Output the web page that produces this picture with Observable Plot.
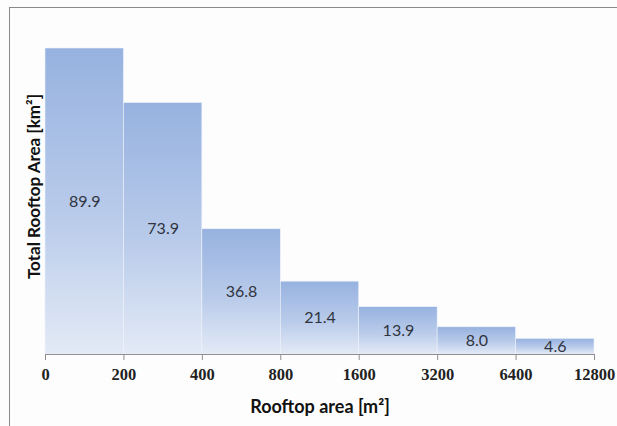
<!DOCTYPE html>
<html>
<head>
<meta charset="utf-8">
<script src="https://cdn.jsdelivr.net/npm/d3@7"></script>
<script src="https://cdn.jsdelivr.net/npm/@observablehq/plot@0.6"></script>
<style>
  html, body { margin: 0; padding: 0; background: #fdfdfd; overflow: hidden; }
  #wrap { position: relative; width: 617px; height: 426px; }
  #frame { position: absolute; left: 9px; top: 7px; width: 640px; height: 440px;
           border-top: 1.5px solid #8a8a8a; border-left: 1.5px solid #8a8a8a; pointer-events: none; }
  svg text { font-family: Lato, "Open Sans", "Liberation Sans", sans-serif; }
  svg g[aria-label="x-axis tick label"] text { font-family: "Liberation Serif", "DejaVu Serif", serif; }
</style>
</head>
<body>
<div id="wrap"><div id="frame"></div></div>
<script>
const edgeLabels = ["0", "200", "400", "800", "1600", "3200", "6400", "12800"];
const values = [89.9, 73.9, 36.8, 21.4, 13.9, 8.0, 4.6];
const valueLabels = ["89.9", "73.9", "36.8", "21.4", "13.9", "8.0", "4.6"];
const xTitle = "Rooftop area [m²]";
const yTitle = "Total Rooftop Area [km²]";

const bars = values.map((v, i) => ({i, v, label: valueLabels[i]}));

const chart = Plot.plot({
  width: 617,
  height: 426,
  marginLeft: 45,
  marginRight: 23,
  marginTop: 48,
  marginBottom: 72,
  style: {background: "transparent", overflow: "visible"},
  x: {domain: [0, values.length], axis: null},
  y: {domain: [0, 89.9], axis: null},
  marks: [
    () => {
      const ns = "http://www.w3.org/2000/svg";
      const defs = document.createElementNS(ns, "defs");
      const g = document.createElementNS(ns, "linearGradient");
      g.setAttribute("id", "barGrad");
      g.setAttribute("x1", "0"); g.setAttribute("y1", "0");
      g.setAttribute("x2", "0"); g.setAttribute("y2", "1");
      [["0%", "#97b2e0"], ["55%", "#b9cbea"], ["100%", "#e3eaf6"]].forEach(([o, c]) => {
        const s = document.createElementNS(ns, "stop");
        s.setAttribute("offset", o); s.setAttribute("stop-color", c);
        g.appendChild(s);
      });
      defs.appendChild(g);
      return defs;
    },
    Plot.rectY(bars, {x1: "i", x2: d => d.i + 1, y: "v", fill: "url(#barGrad)", stroke: "#eef2fa", strokeWidth: 0.6}),
    Plot.ruleY([0], {stroke: "#8f8f8f", strokeWidth: 1.2}),
    Plot.axisX(d3.range(edgeLabels.length), {
      tickFormat: i => edgeLabels[i],
      tickSize: 6, tickPadding: 8, stroke: "#8f8f8f", fill: "#222",
      fontSize: 16.5, fontWeight: "bold", label: null
    }),
    Plot.text(bars, {x: d => d.i + 0.5, y: d => d.v / 2, text: "label", fill: "#2f3440", fontSize: 16}),
    Plot.text([xTitle], {frameAnchor: "bottom", dy: 58, fill: "#111", fontSize: 18, fontWeight: "bold"}),
    Plot.text([yTitle], {frameAnchor: "left", textAnchor: "middle", dx: -11, dy: -15, rotate: -90, fill: "#111", fontSize: 17, fontWeight: "bold"})
  ]
});
document.getElementById("wrap").prepend(chart);
chart.style.position = "absolute";
chart.style.left = "0";
chart.style.top = "0";
</script>
</body>
</html>
